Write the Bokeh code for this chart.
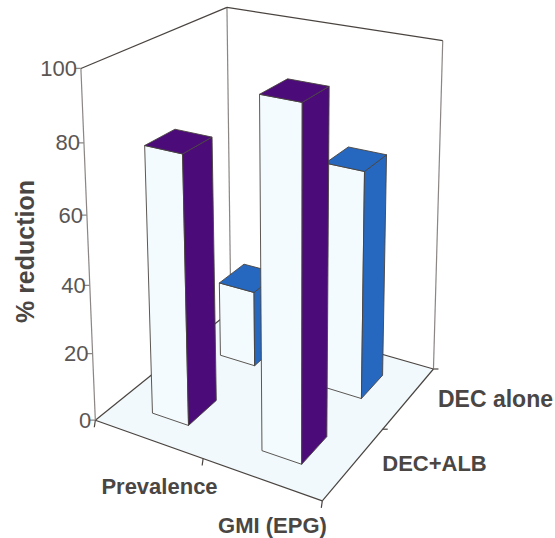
import numpy as np
from bokeh.plotting import figure
from bokeh.core.properties import value
from bokeh.embed import file_html
from bokeh.resources import INLINE

# Data
categories = ["Prevalence", "GMI (EPG)"]
treatments = ["DEC+ALB", "DEC alone"]
prevalence_reduction = [78, 23.5]
gmi_reduction = [98, 68]
value_ticks = [0, 20, 40, 60, 80, 100]
axis_title = "% reduction"

# Camera: box corners (category, treatment, percent) and where they land on the page
box_corners = [(0, 0, 0), (2, 0, 0), (2, 2, 0), (0, 2, 0), (0, 0, 100), (2, 2, 100), (0, 2, 100)]
page_corners = [(95, 420), (322, 500), (433, 369), (230, 310), (80, 68), (442, 40), (227, 7)]


def fit_camera(world, page):
    rows = []
    for (X, Y, Z), (x, y) in zip(world, page):
        W = (X, Y, Z / 50, 1)
        rows.append([*W, 0, 0, 0, 0, *[-x * c for c in W]])
        rows.append([0, 0, 0, 0, *W, *[-y * c for c in W]])
    return np.linalg.svd(np.array(rows, dtype=float))[2][-1].reshape(3, 4)


CAM = fit_camera(box_corners, page_corners)


def proj(u, v, w):
    q = CAM @ np.array([u, v, w / 50, 1.0])
    return (q[0] / q[2], q[1] / q[2])


WIDTH, HEIGHT = 555, 538
p = figure(width=WIDTH, height=HEIGHT, x_range=(0, WIDTH), y_range=(HEIGHT, 0),
           output_backend="svg", toolbar_location=None, min_border=0)
p.xaxis.visible = False
p.yaxis.visible = False
p.grid.visible = False
p.outline_line_color = None
p.background_fill_color = "#ffffff"
p.border_fill_color = "#ffffff"

EDGE = "#4a4440"
WALL = "#8a8684"
FLOOR = "#f1f9fd"
FACE = "#f3fbfe"
PURPLE = "#4b0c7a"
BLUE = "#2668bf"


def face(points, fill, line=EDGE, lw=0.9):
    xs, ys = zip(*points)
    p.patch(list(xs), list(ys), fill_color=fill, line_color=line, line_width=lw)


def seg(a, b, color=EDGE, lw=1.2):
    p.line([a[0], b[0]], [a[1], b[1]], line_color=color, line_width=lw)


# Floor and walls
face([proj(0, 0, 0), proj(2, 0, 0), proj(2, 2, 0), proj(0, 2, 0)], FLOOR, line=None)
seg(proj(0, 0, 0), proj(0, 2, 0))
seg(proj(0, 2, 0), proj(2, 2, 0))
seg(proj(0, 0, 0), proj(2, 0, 0))
seg(proj(2, 0, 0), proj(2, 2, 0))
seg(proj(0, 0, 0), proj(0, 0, 100), WALL)
seg(proj(0, 2, 0), proj(0, 2, 100), WALL)
seg(proj(2, 2, 0), proj(2, 2, 100), WALL)
seg(proj(0, 0, 100), proj(0, 2, 100))
seg(proj(0, 2, 100), proj(2, 2, 100))

# Value axis ticks and labels
for t in value_ticks:
    x, y = proj(0, 0, t)
    seg((x - 6, y), (x, y), WALL)
    p.text([x - 4], [y], text=[str(t)], text_align="right", text_baseline="middle",
           text_font=value("Liberation Sans"), text_font_size="22px", text_color="#5a5654")

# Category and treatment ticks along the floor edges
for u in (0, 1, 2):
    x, y = proj(u, 0, 0)
    seg((x, y), (x - 1, y + 7))
for v in (1, 2):
    x, y = proj(2, v, 0)
    seg((x, y), (x + 5, y))


def bar(u_center, v_center, height, side_color):
    du, dv = 0.17, 0.2
    u0, u1, v0, v1 = u_center - du, u_center + du, v_center - dv, v_center + dv
    face([proj(u0, v0, 0), proj(u1, v0, 0), proj(u1, v0, height), proj(u0, v0, height)], FACE)
    face([proj(u1, v0, 0), proj(u1, v1, 0), proj(u1, v1, height), proj(u1, v0, height)], side_color)
    face([proj(u0, v0, height), proj(u1, v0, height), proj(u1, v1, height), proj(u0, v1, height)], side_color)


# Back row first so that the front row overlaps it
bar(1.5, 1.5, gmi_reduction[1], BLUE)
bar(0.5, 1.5, prevalence_reduction[1], BLUE)
bar(0.5, 0.5, prevalence_reduction[0], PURPLE)
bar(1.5, 0.5, gmi_reduction[0], PURPLE)

# Labels
label = dict(text_font=value("Liberation Sans"), text_font_style="bold", text_color="#4a4644",
             text_baseline="middle")
p.text([159], [486], text=[categories[0]], text_align="center", text_font_size="22px", **label)
p.text([272], [525], text=[categories[1]], text_align="center", text_font_size="22px", **label)
p.text([434], [463], text=[treatments[0]], text_align="center", text_font_size="22px", **label)
p.text([495], [398], text=[treatments[1]], text_align="center", text_font_size="23px", **label)
p.text([24], [251], text=[axis_title], text_align="center", angle=[np.pi / 2], text_font_size="25px", **label)

open("out.html", "w").write(file_html(p, INLINE))
